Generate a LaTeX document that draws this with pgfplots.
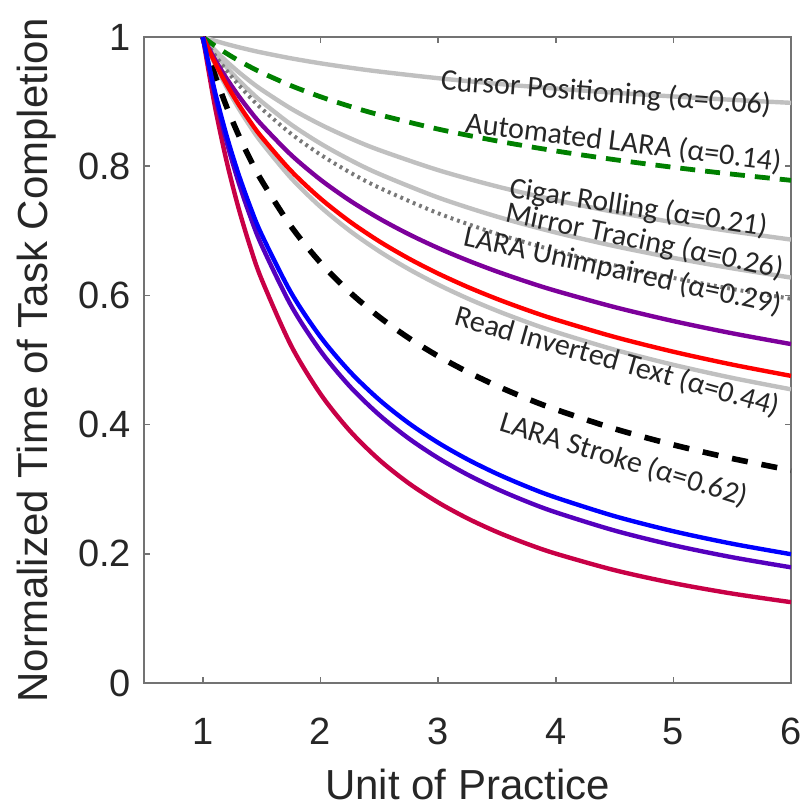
\documentclass[border=0pt]{standalone}
\usepackage{pgfplots}
\pgfplotsset{compat=1.18}
\usepackage{fontspec}
\setmainfont{Liberation Sans}
\newfontfamily\calibri{Carlito}
\definecolor{lgray}{RGB}{192,192,192}
\definecolor{dgray}{RGB}{120,120,120}
\definecolor{mgreen}{RGB}{0,128,0}
\definecolor{mpurple}{RGB}{125,0,155}
\definecolor{mblueviolet}{RGB}{85,0,190}
\definecolor{mcrimson}{RGB}{200,0,70}
\tikzset{lbl/.style={font=\calibri\fontsize{15}{15}\selectfont, text=black!85, inner sep=0pt}}
\begin{document}
\begin{tikzpicture}
\begin{axis}[
  scale only axis, width=323.5pt, height=323pt,
  xmin=0.5, xmax=6, ymin=0, ymax=1,
  xtick={1,2,3,4,5,6}, ytick={0,0.2,0.4,0.6,0.8,1},
  tick align=inside, major tick length=3pt,
  axis line style={black!55, line width=1.2pt},
  every tick/.style={black!55, line width=0.8pt},
  /pgf/number format/assume math mode=true,
  tick label style={font=\fontsize{19}{19}\selectfont, text=black!85},
  xticklabel style={yshift=-14pt},
  yticklabel style={xshift=-3pt},
  xlabel={Unit of Practice}, ylabel={Normalized Time of Task Completion},
  label style={font=\fontsize{21}{21}\selectfont, text=black!85},
  xlabel style={yshift=-5pt},
  ylabel style={yshift=4pt},
  every axis plot/.append style={smooth},
]
% Cursor Positioning alpha=0.06
\addplot[lgray, line width=2.2pt] coordinates {(1,1)(1.1,0.99430)(1.2,0.98912)(1.3,0.98438)(1.4,0.98001)(1.5,0.97597)(1.75,0.96698)(2,0.95926)(2.25,0.95251)(2.5,0.94650)(3,0.93621)(3.5,0.92759)(4,0.92019)(4.5,0.91371)(5,0.90795)(5.5,0.90277)(6,0.89807)};
% Cigar Rolling alpha=0.21
\addplot[lgray, line width=2.2pt] coordinates {(1,1)(1.1,0.98018)(1.2,0.96243)(1.3,0.94640)(1.4,0.93178)(1.5,0.91838)(1.75,0.88912)(2,0.86453)(2.25,0.84341)(2.5,0.82496)(3,0.79397)(3.5,0.76868)(4,0.74742)(4.5,0.72916)(5,0.71321)(5.5,0.69907)(6,0.68641)};
% Mirror Tracing alpha=0.26
\addplot[lgray, line width=2.2pt] coordinates {(1,1)(1.1,0.97552)(1.2,0.95370)(1.3,0.93406)(1.4,0.91624)(1.5,0.89994)(1.75,0.86459)(2,0.83508)(2.25,0.80990)(2.5,0.78801)(3,0.75154)(3.5,0.72201)(4,0.69737)(4.5,0.67634)(5,0.65807)(5.5,0.64196)(6,0.62760)};
% Read Inverted Text alpha=0.44
\addplot[lgray, line width=2.2pt] coordinates {(1,1)(1.1,0.95893)(1.2,0.92291)(1.3,0.89097)(1.4,0.86239)(1.5,0.83660)(1.75,0.78175)(2,0.73713)(2.25,0.69991)(2.5,0.66821)(2.75,0.64076)(3,0.61668)(3.25,0.59535)(3.5,0.57625)(3.75,0.55902)(4,0.54336)(4.5,0.51593)(5,0.49256)(5.5,0.47233)(6,0.45459)};
% LARA Unimpaired alpha=0.29
\addplot[dgray, line width=2pt, dash pattern=on 1.4pt off 2pt] coordinates {(1,1)(1.1,0.97274)(1.2,0.94850)(1.3,0.92674)(1.4,0.90703)(1.5,0.88906)(1.75,0.85020)(2,0.81791)(2.25,0.79044)(2.5,0.76666)(3,0.72717)(3.5,0.69538)(4,0.66898)(4.5,0.64650)(5,0.62705)(5.5,0.60996)(6,0.59476)};
% Automated LARA alpha=0.14
\addplot[mgreen, line width=2.4pt, dash pattern=on 7.5pt off 5pt] coordinates {(1,1)(1.1,0.98675)(1.2,0.97480)(1.3,0.96394)(1.4,0.95399)(1.5,0.94482)(1.75,0.92464)(2,0.90752)(2.25,0.89267)(2.5,0.87960)(3,0.85743)(3.5,0.83913)(4,0.82359)(4.5,0.81012)(5,0.79826)(5.5,0.78767)(6,0.77813)};
% LARA Stroke alpha=0.62
\addplot[black, line width=2.8pt, dash pattern=on 8pt off 7pt] coordinates {(1,1)(1.1,0.94262)(1.2,0.89312)(1.3,0.84988)(1.4,0.81170)(1.5,0.77772)(1.75,0.70684)(2,0.65067)(2.25,0.60484)(2.5,0.56660)(2.75,0.53409)(3,0.50604)(3.25,0.48155)(3.5,0.45993)(3.75,0.44066)(4,0.42340)(4.5,0.39355)(5,0.36867)(5.5,0.34752)(6,0.32927)};
% purple
\addplot[mpurple, line width=2.2pt] coordinates {(1,1)(1.1,0.96627)(1.2,0.93647)(1.3,0.90987)(1.4,0.88592)(1.5,0.86418)(1.75,0.81754)(2,0.77917)(2.25,0.74682)(2.5,0.71902)(2.75,0.69477)(3,0.67335)(3.25,0.65422)(3.5,0.63700)(3.75,0.62137)(4,0.60710)(4.5,0.58190)(5,0.56024)(5.5,0.54135)(6,0.52465)};
% red
\addplot[red, line width=2.2pt] coordinates {(1,1)(1.1,0.96122)(1.2,0.92712)(1.3,0.89684)(1.4,0.86967)(1.5,0.84512)(1.75,0.79276)(2,0.75002)(2.25,0.71424)(2.5,0.68369)(2.75,0.65717)(3,0.63387)(3.25,0.61315)(3.5,0.59458)(3.75,0.57780)(4,0.56254)(4.5,0.53570)(5,0.51278)(5.5,0.49290)(6,0.47542)};
% crimson
\addplot[mcrimson, line width=2.2pt] coordinates {(1,1)(1.1,0.89534)(1.2,0.80938)(1.3,0.73761)(1.4,0.67685)(1.5,0.62479)(1.75,0.52249)(2,0.44751)(2.25,0.39036)(2.5,0.34546)(2.75,0.30929)(3,0.27960)(3.25,0.25481)(3.5,0.23382)(3.75,0.21584)(4,0.20027)(4.5,0.17469)(5,0.15460)(5.5,0.13842)(6,0.12513)};
% blue-violet
\addplot[mblueviolet, line width=2.2pt] coordinates {(1,1)(1.1,0.91256)(1.2,0.83943)(1.3,0.77734)(1.4,0.72396)(1.5,0.67757)(1.75,0.58435)(2,0.51407)(2.25,0.45910)(2.5,0.41495)(2.75,0.37865)(3,0.34831)(3.25,0.32255)(3.5,0.30040)(3.75,0.28114)(4,0.26425)(4.5,0.23600)(5,0.21329)(5.5,0.19466)(6,0.17906)};
% blue
\addplot[blue, line width=2.2pt] coordinates {(1,1)(1.1,0.91780)(1.2,0.84866)(1.3,0.78969)(1.4,0.73873)(1.5,0.69425)(1.75,0.60430)(2,0.53589)(2.25,0.48200)(2.5,0.43840)(2.75,0.40235)(3,0.37204)(3.25,0.34619)(3.5,0.32386)(3.75,0.30434)(4,0.28717)(4.5,0.25828)(5,0.23492)(5.5,0.21560)(6,0.19937)};

\node[lbl, rotate=-4.3] at (axis cs:4.427,0.912) {Cursor Positioning (α=0.06)};
\node[lbl, rotate=-7.0] at (axis cs:4.576,0.836) {Automated LARA (α=0.14)};
\node[lbl, rotate=-8.5] at (axis cs:4.703,0.7345) {Cigar Rolling (α=0.21)};
\node[lbl, rotate=-11.5] at (axis cs:4.754,0.683) {Mirror Tracing (α=0.26)};
\node[lbl, rotate=-12.3] at (axis cs:4.567,0.637) {LARA Unimpaired (α=0.29)};
\node[lbl, rotate=-15.8] at (axis cs:4.525,0.497) {Read Inverted Text (α=0.44)};
\node[lbl, rotate=-17.0] at (axis cs:4.58,0.345) {LARA Stroke (α=0.62)};
\end{axis}
\pgfresetboundingbox
\path ([shift={(-72pt,-62.5pt)}]current axis.south west) rectangle ([shift={(6.5pt,18.5pt)}]current axis.north east);
\end{tikzpicture}
\end{document}
